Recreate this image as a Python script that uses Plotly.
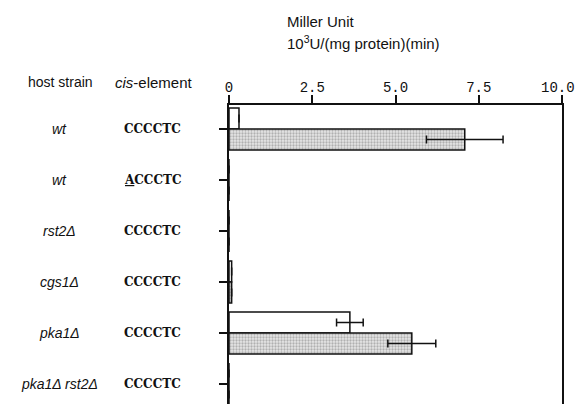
import plotly.graph_objects as go

host_strains = ["wt", "wt", "rst2Δ", "cgs1Δ", "pka1Δ", "pka1Δ rst2Δ"]
cis_elements = ["CCCCTC", "<u>A</u>CCCTC", "CCCCTC", "CCCCTC", "CCCCTC", "CCCCTC"]
open_values = [0.3, 0.0, 0.0, 0.08, 3.63, 0.0]
open_errors = [0.0, 0.0, 0.0, 0.0, 0.4, 0.0]
shaded_values = [7.08, 0.0, 0.0, 0.08, 5.49, 0.0]
shaded_errors = [1.15, 0.0, 0.0, 0.0, 0.72, 0.0]
x_ticks = [0, 2.5, 5.0, 7.5, 10.0]
x_tick_labels = ["0", "2.5", "5.0", "7.5", "10.0\u00a0"]

W, H = 583, 404
L, R, T, B = 229, 16, 105, 0
PW, PH = W - L - R, H - T - B
ROW_PX = 51.0
Y_TOP = -(129 - T) / ROW_PX
Y_BOT = Y_TOP + PH / ROW_PX

def px_x(px):
    return (px - L) / PW

def px_y(py):
    return 1 - (py - T) / PH

rows = list(range(len(host_strains)))
SANS = "Liberation Sans, Arial, sans-serif"
MONO = "Liberation Mono, Courier New, monospace"
SERIF = "DejaVu Serif, serif"

fig = go.Figure()
fig.add_trace(go.Bar(
    y=rows, x=open_values, orientation="h",
    width=0.41, offset=-0.41,
    marker=dict(color="white", line=dict(color="#111", width=1.5)),
    error_x=dict(type="data", array=open_errors, color="#111", thickness=1.5, width=4),
    showlegend=False, hoverinfo="skip",
))
fig.add_trace(go.Bar(
    y=rows, x=shaded_values, orientation="h",
    width=0.41, offset=0.0,
    marker=dict(color="#d8d8d8", line=dict(color="#111", width=1.5),
                pattern=dict(shape=".", fgcolor="#7a7a7a", bgcolor="#e6e6e6", size=3, solidity=0.45)),
    error_x=dict(type="data", array=shaded_errors, color="#111", thickness=1.5, width=4),
    showlegend=False, hoverinfo="skip",
))

annotations = []
for i in rows:
    annotations.append(dict(x=px_x(57), xref="paper", y=i, yref="y",
                            text="<i>" + host_strains[i] + "</i>", showarrow=False,
                            xanchor="center", yanchor="middle",
                            font=dict(family=SANS, size=14, color="#111")))
    annotations.append(dict(x=px_x(151), xref="paper", y=i, yref="y",
                            text="<b>" + cis_elements[i] + "</b>", showarrow=False,
                            xanchor="center", yanchor="middle",
                            font=dict(family=SERIF, size=12, color="#111")))
annotations += [
    dict(x=px_x(58), y=px_y(82), xref="paper", yref="paper", text="host strain",
         showarrow=False, xanchor="center", yanchor="middle",
         font=dict(family=SANS, size=14, color="#111")),
    dict(x=px_x(153), y=px_y(82), xref="paper", yref="paper", text="<i>cis</i>-element",
         showarrow=False, xanchor="center", yanchor="middle",
         font=dict(family=SANS, size=15, color="#111")),
    dict(x=px_x(286), y=px_y(22), xref="paper", yref="paper", text="Miller Unit",
         showarrow=False, xanchor="left", yanchor="middle",
         font=dict(family=SANS, size=15, color="#111")),
    dict(x=px_x(286), y=px_y(43), xref="paper", yref="paper",
         text="10<sup>3</sup>U/(mg protein)(min)",
         showarrow=False, xanchor="left", yanchor="middle",
         font=dict(family=SANS, size=15, color="#111")),
]

fig.update_layout(
    width=W, height=H,
    margin=dict(l=L, r=R, t=T, b=B, pad=0),
    paper_bgcolor="white", plot_bgcolor="white",
    barmode="overlay",
    annotations=annotations,
    xaxis=dict(side="top", range=[0, 10], tickvals=x_ticks, ticktext=x_tick_labels,
               showline=True, linecolor="#111", linewidth=1.5,
               ticks="outside", ticklen=8, tickwidth=1.5, tickcolor="#111",
               showgrid=False, zeroline=False, ticklabeloverflow="allow",
               ticklabelstandoff=-2,
               tickfont=dict(family=MONO, size=14, color="#111")),
    yaxis=dict(range=[Y_BOT, Y_TOP], tickvals=rows, showticklabels=False,
               showline=True, mirror=True, linecolor="#111", linewidth=1.5,
               ticks="outside", ticklen=8, tickwidth=1.5, tickcolor="#111",
               showgrid=False, zeroline=False),
)

fig.write_html("out.html", config={"displayModeBar": False},
               post_script="document.body.style.margin='0px';")
